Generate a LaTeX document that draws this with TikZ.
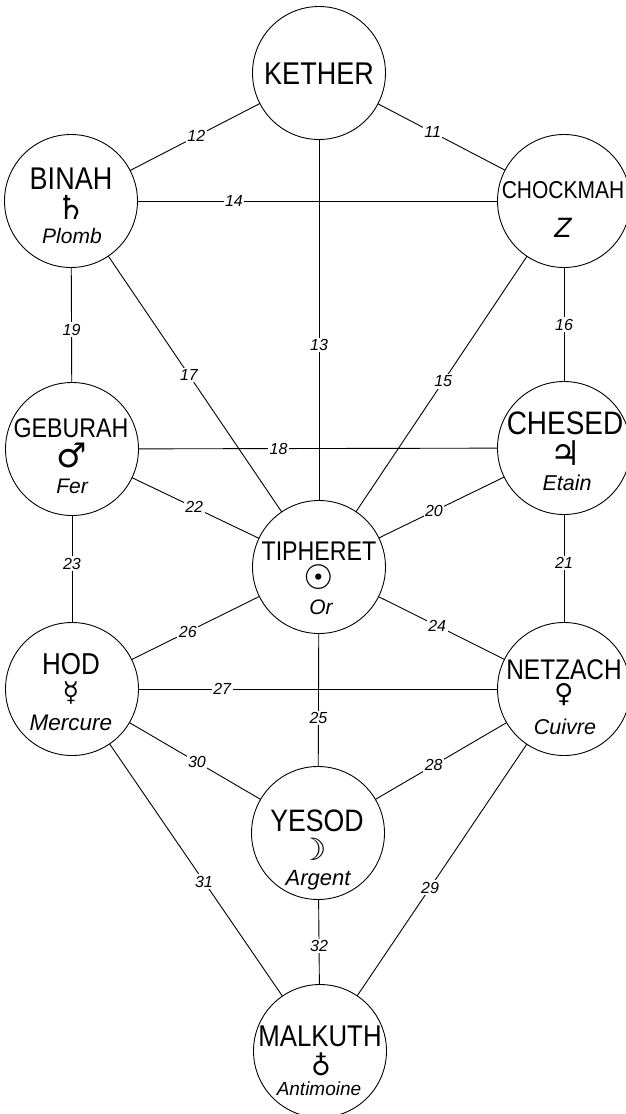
\documentclass[tikz,border=0pt]{standalone}
\usepackage{fontspec}
\setmainfont{Liberation Sans}
\newfontfamily\symfont{DejaVu Sans}
\newfontfamily\symmono{DejaVu Sans Mono}
\newfontfamily\capsfont[FakeStretch=0.86]{Liberation Sans}
\tikzset{
  sefira/.style={circle,draw=black,fill=white,line width=0.9pt,minimum size=133pt,inner sep=0pt,outer sep=0pt},
  conn/.style={draw=black,line width=0.9pt},
  lab/.style={fill=white,inner sep=1.5pt,font=\fontsize{16}{16}\selectfont\itshape},
  word/.style={inner sep=0pt,anchor=base,font=\fontsize{#1}{#1}\selectfont\capsfont},
  metal/.style={inner sep=0pt,anchor=base,font=\fontsize{#1}{#1}\selectfont\itshape},
  sym/.style={inner sep=0pt,anchor=center,font=\fontsize{#1}{#1}\selectfont\symfont},
  symm/.style={inner sep=0pt,anchor=center,font=\fontsize{#1}{#1}\selectfont\symmono}
}
\begin{document}
\begin{tikzpicture}[x=1pt,y=-1pt]
\useasboundingbox (0,0) rectangle (626,1114);
\fill[white] (0,0) rectangle (626,1114);
\node[sefira] (ket) at (319,73) {};
\node[sefira] (bin) at (71,201) {};
\node[sefira] (cho) at (564,201) {};
\node[sefira] (geb) at (72,449) {};
\node[sefira] (che) at (564,448) {};
\node[sefira] (tip) at (319,567) {};
\node[sefira] (hod) at (72,689) {};
\node[sefira] (net) at (564,689) {};
\node[sefira] (yes) at (318,833) {};
\node[sefira] (mal) at (320,1051) {};
\draw[conn] (bin) -- node[lab,pos=.51] (l12) {12} (ket);
\draw[conn] (ket) -- node[lab,pos=.43] (l11) {11} (cho);
\draw[conn] (bin) -- node[lab,pos=.268] (l14) {14} (cho);
\draw[conn] (ket) -- node[lab,pos=.57] (l13) {13} (tip);
\draw[conn] (bin) -- node[lab,pos=.54] (l19) {19} (geb);
\draw[conn] (bin) -- node[lab,pos=.465] (l17) {17} (tip);
\draw[conn] (cho) -- node[lab,pos=.49] (l15) {15} (tip);
\draw[conn] (cho) -- node[lab,pos=.5] (l16) {16} (che);
\draw[conn] (geb) -- node[lab,pos=.39] (l18) {18} (che);
\draw[conn] (geb) -- node[lab,pos=.49] (l22) {22} (tip);
\draw[conn] (tip) -- node[lab,pos=.44] (l20) {20} (che);
\draw[conn] (geb) -- node[lab,pos=.45] (l23) {23} (hod);
\draw[conn] (che) -- node[lab,pos=.45] (l21) {21} (net);
\draw[conn] (hod) -- node[lab,pos=.44] (l26) {26} (tip);
\draw[conn] (tip) -- node[lab,pos=.466] (l24) {24} (net);
\draw[conn] (hod) -- node[lab,pos=.233] (l27) {27} (net);
\draw[conn] (tip) -- node[lab,pos=.635] (l25) {25} (yes);
\draw[conn] (hod) -- node[lab,pos=.515] (l30) {30} (yes);
\draw[conn] (yes) -- node[lab,pos=.444] (l28) {28} (net);
\draw[conn] (hod) -- node[lab,pos=.546] (l31) {31} (mal);
\draw[conn] (net) -- node[lab,pos=.57] (l29) {29} (mal);
\draw[conn] (yes) -- node[lab,pos=.547] (l32) {32} (mal);
\node[word=31.4] (tket) at (319,84) {KETHER};
\node[word=31.4] (tbin) at (71,189) {BINAH};
\node[sym=33] (sbin) at (71,207) {♄};
\node[metal=21] (mbin) at (72,243) {Plomb};
\node[word=24.4] (tcho) at (563,198) {CHOCKMAH};
\node[metal=28] (mcho) at (563,237) {Z};
\node[word=27] (tgeb) at (71,437) {GEBURAH};
\node[sym=34] (sgeb) at (72,455) {♂};
\node[metal=21] (mgeb) at (72,493) {Fer};
\node[word=32.5] (tche) at (565,434) {CHESED};
\node[sym=34] (sche) at (566,453) {♃};
\node[metal=21.5] (mche) at (567,490) {Etain};
\node[word=27] (ttip) at (319,560) {TIPHERET};
\node[sym=34] (stip) at (319,577) {☉};
\node[metal=21] (mtip) at (321,614) {Or};
\node[word=30.2] (thod) at (71,674) {HOD};
\node[sym=27] (shod) at (71,693) {☿};
\node[metal=22.5] (mhod) at (71,730) {Mercure};
\node[word=28.4] (tnet) at (564,679) {NETZACH};
\node[sym=26] (snet) at (564,695) {♀};
\node[metal=21.5] (mnet) at (565,734) {Cuivre};
\node[word=31] (tyes) at (317,831) {YESOD};
\node[symm=31] (syes) at (317,849) {☽};
\node[metal=22] (myes) at (318,885) {Argent};
\node[word=30] (tmal) at (320,1046) {MALKUTH};
\node[sym=27] (smal) at (321,1064) {♁};
\node[metal=19] (mmal) at (319,1095) {Antimoine};
\end{tikzpicture}
\end{document}
